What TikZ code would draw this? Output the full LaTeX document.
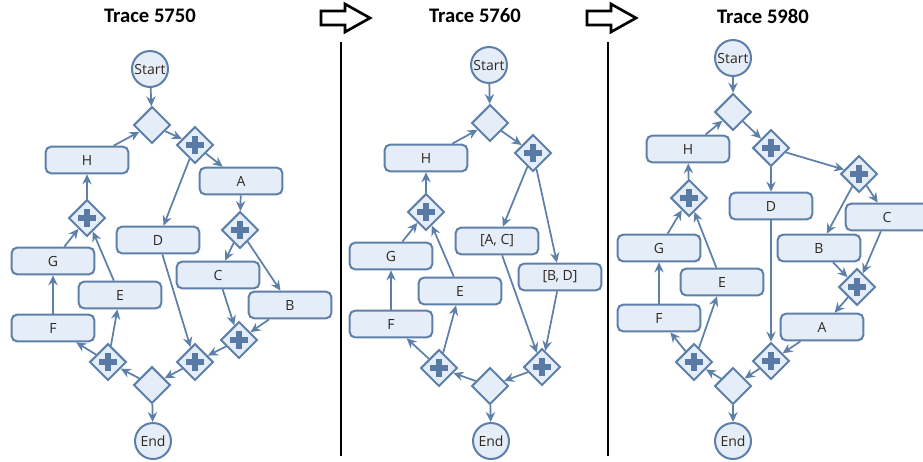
\documentclass[tikz,border=0pt]{standalone}
\usepackage{fontspec}
\setmainfont{Open Sans}
\newfontfamily\titlefont{Carlito}
\usepackage{xcolor}
\usetikzlibrary{shapes.geometric,arrows.meta}
\definecolor{bpmnline}{RGB}{94, 128, 168}
\definecolor{bpmnfill}{RGB}{228, 237, 248}
\definecolor{bpmnplus}{RGB}{88, 122, 164}
\definecolor{bpmntext}{RGB}{48, 40, 32}

\begin{document}
\begin{tikzpicture}[x=0.75pt,y=-0.75pt,
		task/.style={draw=bpmnline,fill=bpmnfill,line width=1.5pt,rounded corners=4pt,minimum width=62pt,minimum height=20pt,inner sep=0pt,text=bpmntext,font=\fontsize{10.5}{12}\selectfont},
		event/.style={circle,draw=bpmnline,fill=bpmnfill,line width=1.5pt,minimum size=27pt,inner sep=0pt,text=bpmntext,font=\fontsize{10.5}{12}\selectfont},
		xorgate/.style={diamond,draw=bpmnline,fill=bpmnfill,line width=1.5pt,minimum size=27.5pt,inner sep=0pt},
		andgate/.style={xorgate,path picture={
				\draw[bpmnplus,line width=3.8pt] ([xshift=-6.8pt]path picture bounding box.center) -- ([xshift=6.8pt]path picture bounding box.center)
				([yshift=-6.8pt]path picture bounding box.center) -- ([yshift=6.8pt]path picture bounding box.center);}},
		flow/.style={draw=bpmnline,line width=1.3pt,-{Stealth[length=7.5pt,width=7pt,inset=2.5pt]}},
		sepline/.style={black,line width=2.2pt},
		blockarrow/.style={draw=black,fill=white,line width=2pt,line join=miter},
		tracetitle/.style={font=\titlefont\bfseries\fontsize{15.5}{18}\selectfont}]
		\clip (0,0) rectangle (923,461);
		
		% titles
		\node[tracetitle] (title1) at (150,16) {Trace 5750};
		\node[tracetitle] (title2) at (475,16) {Trace 5760};
		\node[tracetitle] (title3) at (763,16) {Trace 5980};
		
		% block arrows & separators
		\draw[blockarrow] (321,11) -- (345,11) -- (345,4) -- (370,18) -- (345,32) -- (345,25) -- (321,25) -- cycle;
		\draw[blockarrow] (587,11) -- (611,11) -- (611,4) -- (636,18) -- (611,32) -- (611,25) -- (587,25) -- cycle;
		\draw[sepline] (341,42) -- (341,456);
		\draw[sepline] (608,42) -- (608,456);
		
		%%%%%%%%%%%% Trace 5750
		\node[event] (t1start) at (150,69) {Start};
		\node[xorgate] (t1xtop) at (152,125) {};
		\node[andgate] (t1p1) at (195,145) {};
		\node[task] (t1H) at (87,160) {H};
		\node[task] (t1A) at (241,181) {A};
		\node[andgate] (t1p6) at (87,218) {};
		\node[andgate] (t1p2) at (240,230) {};
		\node[task] (t1D) at (158,240) {D};
		\node[task] (t1G) at (53,261) {G};
		\node[task] (t1C) at (218,275) {C};
		\node[task] (t1E) at (120,295) {E};
		\node[task] (t1B) at (290,305) {B};
		\node[task] (t1F) at (53,328) {F};
		\node[andgate] (t1p3) at (239,340) {};
		\node[andgate] (t1p4) at (195,362) {};
		\node[andgate] (t1p5) at (108,362) {};
		\node[xorgate] (t1xbot) at (152,385) {};
		\node[event] (t1end) at (153,441) {End};
		
		\draw[flow] (t1start) -- (t1xtop);
		\draw[flow] (t1xtop) -- (t1p1);
		\draw[flow] (t1H) -- (t1xtop);
		\draw[flow] (t1p1) -- (t1A);
		\draw[flow] (t1p1) -- (t1D);
		\draw[flow] (t1A) -- (t1p2);
		\draw[flow] (t1p2) -- (t1C);
		\draw[flow] (t1p2) -- (t1B);
		\draw[flow] (t1C) -- (t1p3);
		\draw[flow] (t1B) -- (t1p3);
		\draw[flow] (t1p3) -- (t1p4);
		\draw[flow] (t1D) -- (t1p4);
		\draw[flow] (t1p4) -- (t1xbot);
		\draw[flow] (t1xbot) -- (t1end);
		\draw[flow] (t1xbot) -- (t1p5);
		\draw[flow] (t1p5) -- (t1F);
		\draw[flow] (t1p5) -- (t1E);
		\draw[flow] (t1F) -- (t1G);
		\draw[flow] (t1G) -- (t1p6);
		\draw[flow] (t1E) -- (t1p6);
		\draw[flow] (t1p6) -- (t1H);
		
		%%%%%%%%%%%% Trace 5760
		\node[event] (t2start) at (489,65) {Start};
		\node[xorgate] (t2xtop) at (490,123) {};
		\node[andgate] (t2p1) at (533,153) {};
		\node[task] (t2H) at (426,158) {H};
		\node[andgate] (t2p6) at (426,212) {};
		\node[task] (t2AC) at (497,241) {[A, C]};
		\node[task] (t2G) at (391,256) {G};
		\node[task] (t2BD) at (560,277) {[B, D]};
		\node[task] (t2E) at (460,291) {E};
		\node[task] (t2F) at (391,324) {F};
		\node[andgate] (t2pj) at (542,367) {};
		\node[andgate] (t2ps) at (439,368) {};
		\node[xorgate] (t2xbot) at (490,386) {};
		\node[event] (t2end) at (491,441) {End};
		
		\draw[flow] (t2start) -- (t2xtop);
		\draw[flow] (t2xtop) -- (t2p1);
		\draw[flow] (t2H) -- (t2xtop);
		\draw[flow] (t2p1) -- (t2AC);
		\draw[flow] (t2p1) -- (t2BD);
		\draw[flow] (t2AC) -- (t2pj);
		\draw[flow] (t2BD) -- (t2pj);
		\draw[flow] (t2pj) -- (t2xbot);
		\draw[flow] (t2xbot) -- (t2end);
		\draw[flow] (t2xbot) -- (t2ps);
		\draw[flow] (t2ps) -- (t2F);
		\draw[flow] (t2ps) -- (t2E);
		\draw[flow] (t2F) -- (t2G);
		\draw[flow] (t2G) -- (t2p6);
		\draw[flow] (t2E) -- (t2p6);
		\draw[flow] (t2p6) -- (t2H);
		
		%%%%%%%%%%%% Trace 5980
		\node[event] (t3start) at (733,58) {Start};
		\node[xorgate] (t3xtop) at (733,112) {};
		\node[andgate] (t3p1) at (771,148) {};
		\node[task] (t3H) at (688,149) {H};
		\node[andgate] (t3p2) at (859,174) {};
		\node[andgate] (t3p6) at (689,198) {};
		\node[task] (t3D) at (771,206) {D};
		\node[task] (t3C) at (887,217) {C};
		\node[task] (t3B) at (819,248) {B};
		\node[task] (t3G) at (659,248) {G};
		\node[task] (t3E) at (722,282) {E};
		\node[andgate] (t3p3) at (857,287) {};
		\node[task] (t3F) at (659,318) {F};
		\node[task] (t3A) at (822,327) {A};
		\node[andgate] (t3pj) at (771,361) {};
		\node[andgate] (t3ps) at (694,362) {};
		\node[xorgate] (t3xbot) at (733,386) {};
		\node[event] (t3end) at (733,441) {End};
		
		\draw[flow] (t3start) -- (t3xtop);
		\draw[flow] (t3xtop) -- (t3p1);
		\draw[flow] (t3H) -- (t3xtop);
		\draw[flow] (t3p1) -- (t3D);
		\draw[flow] (t3p1) -- (t3p2);
		\draw[flow] (t3p2) -- (t3C);
		\draw[flow] (t3p2) -- (t3B);
		\draw[flow] (t3B) -- (t3p3);
		\draw[flow] (t3C) -- (t3p3);
		\draw[flow] (t3p3) -- (t3A);
		\draw[flow] (t3A) -- (t3pj);
		\draw[flow] (t3D) -- (t3pj);
		\draw[flow] (t3pj) -- (t3xbot);
		\draw[flow] (t3xbot) -- (t3end);
		\draw[flow] (t3xbot) -- (t3ps);
		\draw[flow] (t3ps) -- (t3F);
		\draw[flow] (t3ps) -- (t3E);
		\draw[flow] (t3F) -- (t3G);
		\draw[flow] (t3G) -- (t3p6);
		\draw[flow] (t3E) -- (t3p6);
		\draw[flow] (t3p6) -- (t3H);
	
	\end{tikzpicture}
\end{document}
